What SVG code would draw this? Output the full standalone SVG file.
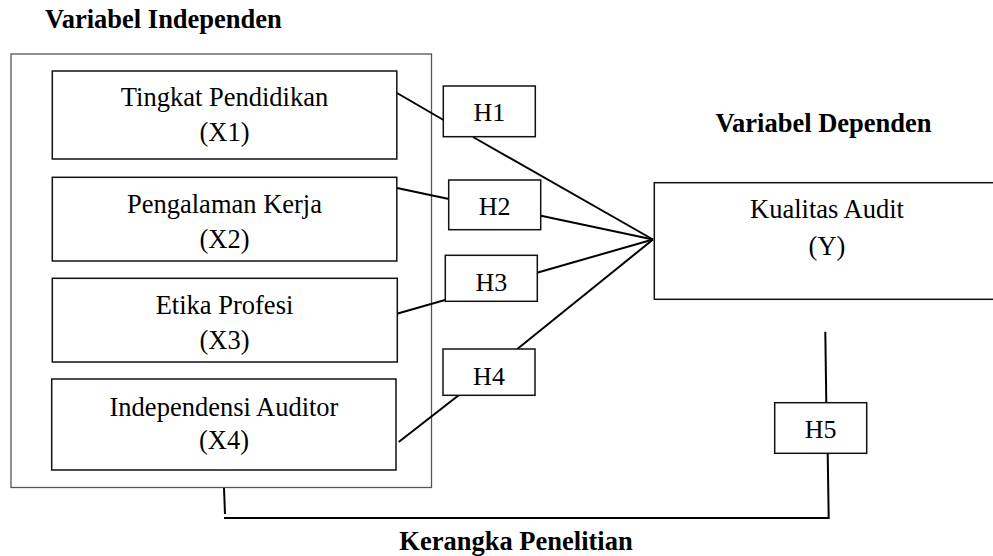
<svg xmlns="http://www.w3.org/2000/svg" width="993" height="556" viewBox="0 0 993 556">
<style>
text{font-family:"Liberation Serif","Times New Roman","DejaVu Serif",serif;fill:#000;}
.t{font-size:26.5px;text-anchor:middle;}
.h{font-size:26px;text-anchor:middle;}
.b{font-size:26.5px;font-weight:bold;}
.box{fill:#fff;stroke:#111;stroke-width:1.5;}
.outer{fill:none;stroke:#555;stroke-width:1.3;}
.c{stroke:#000;stroke-width:2;fill:none;stroke-linecap:butt;}
</style>
<rect width="993" height="556" fill="#fff"/>
<g id="title-independen"><text class="b" x="45" y="28">Variabel Independen</text></g>
<g id="title-dependen"><text class="b" x="823.5" y="132" text-anchor="middle">Variabel Dependen</text></g>
<g id="caption"><text class="b" x="516" y="550" text-anchor="middle">Kerangka Penelitian</text></g>
<g id="independen-group"><rect class="outer" x="11" y="54" width="420.5" height="433.5"/></g>
<g id="connectors">
<line class="c" x1="397" y1="93" x2="443.5" y2="120"/>
<line class="c" x1="473" y1="137" x2="653" y2="239.5"/>
<line class="c" x1="397" y1="188" x2="449" y2="199"/>
<line class="c" x1="541" y1="215.7" x2="653" y2="239.5"/>
<line class="c" x1="537" y1="272.7" x2="653" y2="239.5"/>
<line class="c" x1="396" y1="314" x2="445" y2="300"/>
<line class="c" x1="517.3" y1="349" x2="653" y2="239.5"/>
<line class="c" x1="459" y1="395" x2="398.7" y2="442"/>
<line class="c" x1="825.3" y1="331.7" x2="826.3" y2="402.7"/>
<line class="c" x1="827.7" y1="453.3" x2="828.7" y2="519"/>
<line class="c" x1="224" y1="518" x2="828.7" y2="518"/>
<line class="c" x1="224" y1="488" x2="225" y2="514"/>
</g>
<g id="x1"><rect class="box" x="52.3" y="71" width="344.5" height="88"/><text class="t" x="224.5" y="106">Tingkat Pendidikan</text><text class="t" x="224.5" y="140.5">(X1)</text></g>
<g id="x2"><rect class="box" x="52.3" y="177.3" width="344.5" height="83.7"/><text class="t" x="224.5" y="213">Pengalaman Kerja</text><text class="t" x="224.5" y="248">(X2)</text></g>
<g id="x3"><rect class="box" x="52.3" y="278.3" width="345" height="83.7"/><text class="t" x="224.5" y="314">Etika Profesi</text><text class="t" x="224.5" y="348.5">(X3)</text></g>
<g id="x4"><rect class="box" x="51.7" y="379" width="344.3" height="91"/><text class="t" x="224" y="415.5">Independensi Auditor</text><text class="t" x="224" y="449">(X4)</text></g>
<g id="y"><rect class="box" x="654.3" y="182.7" width="360" height="116.6"/><text class="t" x="827" y="218">Kualitas Audit</text><text class="t" x="827" y="254.5">(Y)</text></g>
<g id="h1"><rect class="box" x="443.3" y="86" width="92" height="50.7"/><text class="h" x="489.3" y="121">H1</text></g>
<g id="h2"><rect class="box" x="448.7" y="180" width="92" height="49.7"/><text class="h" x="494.7" y="215">H2</text></g>
<g id="h3"><rect class="box" x="445.3" y="255.3" width="92" height="46"/><text class="h" x="491.3" y="291">H3</text></g>
<g id="h4"><rect class="box" x="443" y="349" width="92" height="46.3"/><text class="h" x="489" y="385">H4</text></g>
<g id="h5"><rect class="box" x="774.7" y="402.7" width="92" height="50.6"/><text class="h" x="820.7" y="438">H5</text></g>
</svg>
